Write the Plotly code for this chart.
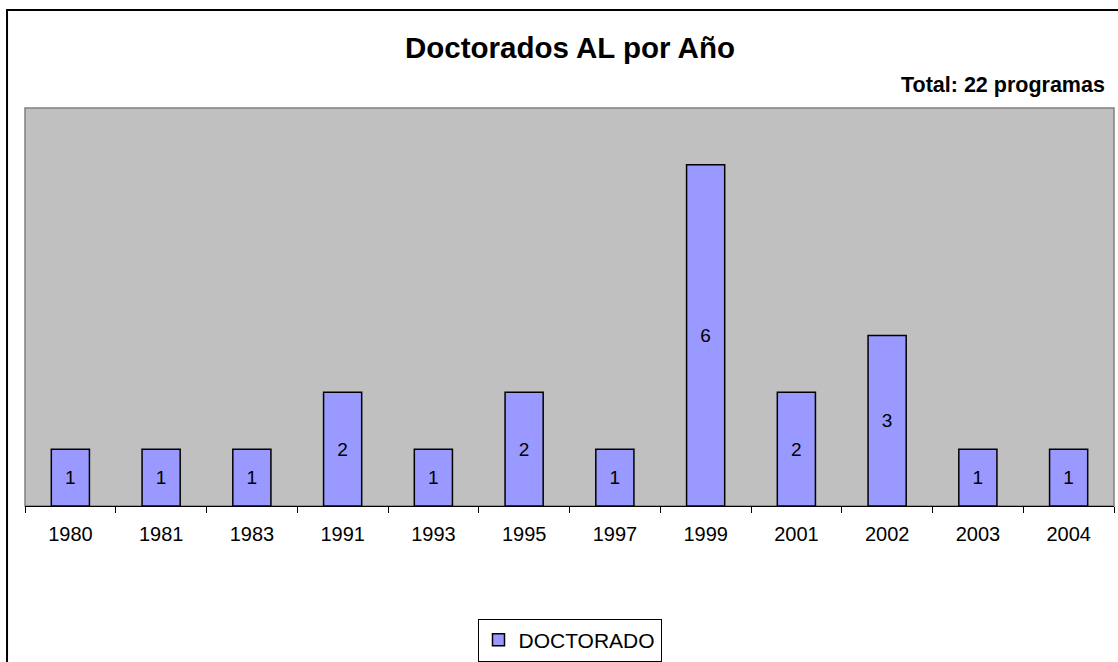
import plotly.graph_objects as go

# datos del grafico
anios = ['1980', '1981', '1983', '1991', '1993', '1995', '1997', '1999', '2001', '2002', '2003', '2004']
doctorados = [1, 1, 1, 2, 1, 2, 1, 6, 2, 3, 1, 1]
total = sum(doctorados)

fuente = 'Liberation Sans, Arial, sans-serif'

fig = go.Figure()
fig.add_trace(go.Bar(
    x=anios, y=doctorados, name='DOCTORADO',
    marker=dict(color='#9999FF', line=dict(color='black', width=1.5)),
    text=doctorados, textposition='inside', insidetextanchor='middle',
    textfont=dict(color='black', size=19, family=fuente),
    showlegend=True,
))

# borde exterior del area del grafico
fig.add_shape(type='rect', xref='paper', yref='paper',
              x0=-0.0165, x1=1.2, y0=-1.0, y1=1.2462,
              line=dict(color='black', width=2), fillcolor='rgba(0,0,0,0)', layer='below')
# borde del area de trazado
fig.add_shape(type='rect', xref='paper', yref='paper',
              x0=0, x1=1, y0=0, y1=1,
              line=dict(color='#808080', width=1.5), fillcolor='rgba(0,0,0,0)', layer='below')

fig.add_annotation(text='<b>Doctorados AL por Año</b>', xref='paper', yref='paper',
                   x=0.5, y=1.1508, xanchor='center', yanchor='middle', showarrow=False,
                   font=dict(size=29.5, color='black', family=fuente))
fig.add_annotation(text='<b>Total: %d programas</b>' % total, xref='paper', yref='paper',
                   x=0.9936, y=1.0578, xanchor='right', yanchor='middle', showarrow=False,
                   font=dict(size=21.5, color='black', family=fuente))

fig.update_layout(
    width=1118, height=662,
    margin=dict(l=25, r=4, t=108, b=156, autoexpand=False),
    paper_bgcolor='white', plot_bgcolor='#C0C0C0',
    bargap=0.58,
    font=dict(family=fuente, color='black', size=19),
    legend=dict(x=0.5, y=0.033, xref='paper', yref='container',
                xanchor='center', yanchor='middle',
                bordercolor='black', borderwidth=1, bgcolor='white',
                font=dict(size=21, family=fuente)),
    xaxis=dict(type='category', showline=True, linecolor='black', linewidth=1,
               ticks='outside', tickson='boundaries', ticklen=6, tickcolor='black',
               ticklabelstandoff=10,
               showgrid=False, tickfont=dict(size=20)),
    yaxis=dict(range=[0, 7], visible=False, showgrid=False, zeroline=False),
)

fig.write_html('out.html', config={'displayModeBar': False},
               post_script="document.body.style.margin='0';")
